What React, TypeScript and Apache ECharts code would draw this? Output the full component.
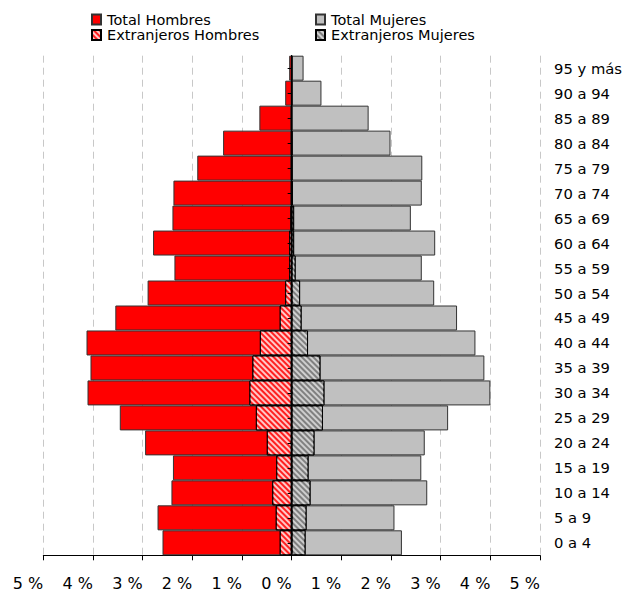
import React, { useEffect, useRef } from "react";
import * as echarts from "echarts";

const categories = ["0 a 4", "5 a 9", "10 a 14", "15 a 19", "20 a 24", "25 a 29", "30 a 34", "35 a 39", "40 a 44", "45 a 49", "50 a 54", "55 a 59", "60 a 64", "65 a 69", "70 a 74", "75 a 79", "80 a 84", "85 a 89", "90 a 94", "95 y más"];
const totalHombres = [2.6, 2.7, 2.42, 2.39, 2.95, 3.46, 4.11, 4.05, 4.13, 3.55, 2.9, 2.36, 2.79, 2.4, 2.38, 1.9, 1.38, 0.65, 0.13, 0.05];
const extranjerosHombres = [0.24, 0.32, 0.39, 0.31, 0.5, 0.72, 0.85, 0.79, 0.64, 0.24, 0.13, 0.05, 0.05, 0.02, 0.01, 0.01, 0.01, 0.01, 0.0, 0.0];
const totalMujeres = [2.22, 2.07, 2.73, 2.61, 2.68, 3.15, 4.0, 3.88, 3.7, 3.33, 2.87, 2.62, 2.89, 2.4, 2.62, 2.63, 1.99, 1.55, 0.6, 0.24];
const extranjerosMujeres = [0.28, 0.3, 0.38, 0.34, 0.46, 0.63, 0.66, 0.58, 0.33, 0.2, 0.17, 0.08, 0.05, 0.05, 0.02, 0.01, 0.01, 0.0, 0.0, 0.0];
const xTicks = [-5, 5];

const FONT = "DejaVu Sans";

export default function App() {
  const ref = useRef<HTMLDivElement>(null);
  useEffect(() => {
    if (!ref.current) return;
    const chart = echarts.init(ref.current, null, { renderer: "svg" });
    const hatch = (color: string) => ({
      symbol: "rect",
      symbolSize: 1,
      color,
      dashArrayX: [1, 0],
      dashArrayY: [1.5, 1.5],
      rotation: Math.PI / 4,
    });
    const legendBase = {
      orient: "horizontal",
      padding: 0,
      itemWidth: 9,
      itemHeight: 10,
      itemGap: 0,
      icon: "rect",
      selectedMode: false,
      textStyle: { fontFamily: FONT, fontSize: 14.5, color: "#000", lineHeight: 16, padding: [0, 0, 0, 1] },
    };
    const option: any = {
      animation: false,
      backgroundColor: "#fff",
      legend: [
        { ...legendBase, left: 91, top: 11.5, data: ["Total Hombres"] },
        { ...legendBase, left: 315, top: 11.5, data: ["Total Mujeres"] },
        { ...legendBase, left: 91, top: 27, data: ["Extranjeros Hombres"] },
        { ...legendBase, left: 315, top: 27, data: ["Extranjeros Mujeres"] },
      ],
      grid: { left: 43.3, right: 95, top: 55.7, bottom: 39.7, containLabel: false },
      xAxis: {
        type: "value",
        min: xTicks[0],
        max: xTicks[1],
        interval: 1,
        axisLine: { show: true, onZero: false, lineStyle: { color: "#000", width: 1 } },
        axisTick: { show: true, length: 5, lineStyle: { color: "#000" } },
        axisLabel: {
          formatter: (v: number) => `${Math.abs(v)} %`,
          fontFamily: FONT,
          fontSize: 16,
          color: "#000",
          align: "right",
          margin: 20,
        },
        splitLine: { show: true, lineStyle: { color: "#c8c8c8", type: [7, 5], width: 1 } },
      },
      yAxis: [
        {
          type: "category",
          data: categories,
          position: "left",
          z: 5,
          axisLine: { show: true, onZero: true, lineStyle: { color: "#000", width: 1 } },
          axisTick: { show: true, alignWithLabel: true, length: 4, lineStyle: { color: "#000" } },
          axisLabel: { show: false },
          splitLine: { show: false },
        },
        {
          type: "category",
          data: categories,
          position: "right",
          axisLine: { show: false, onZero: false },
          axisTick: { show: false },
          axisLabel: { show: true, fontFamily: FONT, fontSize: 14.75, color: "#000", margin: 14 },
          splitLine: { show: false },
        },
      ],
      series: [
        {
          name: "Total Hombres",
          type: "bar",
          yAxisIndex: 0,
          data: totalHombres.map((v) => -v),
          barWidth: "100%",
          barGap: "-100%",
          itemStyle: { color: "#ff0000", borderColor: "#333", borderWidth: 1 },
        },
        {
          name: "Total Mujeres",
          type: "bar",
          yAxisIndex: 0,
          data: totalMujeres,
          barWidth: "100%",
          barGap: "-100%",
          itemStyle: { color: "#c0c0c0", borderColor: "#333", borderWidth: 1 },
        },
        {
          name: "Extranjeros Hombres",
          type: "bar",
          yAxisIndex: 0,
          data: extranjerosHombres.map((v) => -v),
          barWidth: "100%",
          barGap: "-100%",
          itemStyle: { color: "#ff2020", borderColor: "#000", borderWidth: 1, decal: hatch("rgba(255,255,255,0.75)") },
        },
        {
          name: "Extranjeros Mujeres",
          type: "bar",
          yAxisIndex: 0,
          data: extranjerosMujeres,
          barWidth: "100%",
          barGap: "-100%",
          itemStyle: { color: "#808080", borderColor: "#000", borderWidth: 1, decal: hatch("rgba(215,215,215,0.9)") },
        },
      ],
    };
    chart.setOption(option);
    return () => chart.dispose();
  }, []);
  return <div ref={ref} style={{ position: "fixed", left: 0, top: 0, width: 635, height: 595 }} />;
}
